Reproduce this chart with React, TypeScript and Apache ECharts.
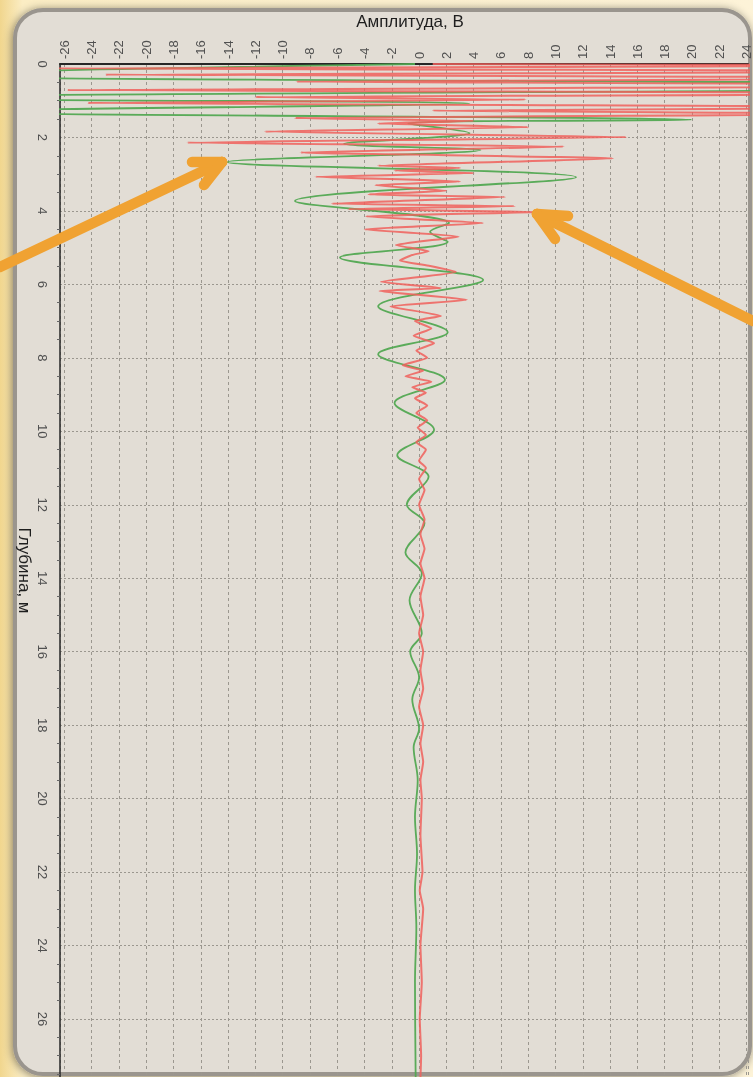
import React, { useEffect, useRef } from "react";
import * as echarts from "echarts";

// ---- Data ----------------------------------------------------------------
// Axis ranges (amplitude, V and depth, m)
const AMP_MIN = -26.32;
const AMP_MAX = 24.11;
const DEPTH_MIN = 0;
const DEPTH_MAX = 27.58;
const DEPTH_STEP = 2;
const AMP_STEP = 2;

const X_TITLE = "Амплитуда, В";
const Y_TITLE = "Глубина, м";

// Green trace: [amplitude, depth]
const greenTrace: [number, number][] = [
  [-0.3, 0], [-40, 0.3], [60, 0.6], [-45, 0.93], [3.7, 1.07], [-35, 1.3],
  [20, 1.52], [-0.8, 1.62], [3.7, 1.88], [-5.5, 2.17], [4.5, 2.34],
  [-14.1, 2.67], [11.5, 3.08], [-9.1, 3.73], [2.2, 4.33], [0.8, 4.57],
  [2.1, 4.84], [-5.8, 5.27], [4.7, 5.88], [-3, 6.6], [2.1, 7.3],
  [-3, 7.9], [1.9, 8.6], [-1.8, 9.23], [1.1, 9.96], [-1.6, 10.65],
  [0.7, 11.24], [-0.9, 12.0], [0.4, 12.5], [-1, 13.3], [0.2, 13.87],
  [-0.7, 14.6], [0.2, 15.5], [-0.65, 16.0], [0, 16.7], [-0.5, 17.3],
  [0, 18.1], [-0.4, 18.6], [-0.1, 19.5], [-0.3, 20.5], [-0.15, 21.5],
  [-0.3, 22.5], [-0.2, 23.5], [-0.3, 25], [-0.25, 27.6],
];

// Red trace: [amplitude, depth]
const redTrace: [number, number][] = [
  [1, 0], [45, 0.04], [-27, 0.12], [50, 0.2], [-23, 0.29], [50, 0.38],
  [-9, 0.48], [55, 0.58], [-25.8, 0.71], [50, 0.8], [-12, 0.9], [7.8, 0.97],
  [-24.3, 1.06], [45, 1.18], [1, 1.27], [35, 1.36], [-9.1, 1.47], [4, 1.55],
  [-3, 1.62], [8, 1.72], [-11.3, 1.84], [15.2, 1.99], [-17, 2.14],
  [10.6, 2.25], [-8.7, 2.41], [14.2, 2.57], [-3, 2.77], [3, 2.83],
  [-1.8, 2.9], [4, 2.97], [-7.6, 3.07], [3, 3.2], [-3.2, 3.3], [2, 3.45],
  [-3.7, 3.55], [6.3, 3.62], [-6.4, 3.8], [7, 3.87], [-5.2, 3.95],
  [9.1, 4.03], [-3.9, 4.15], [4.7, 4.33], [-4, 4.5], [2.9, 4.7],
  [-1.7, 4.93], [0.7, 5.1], [-0.5, 5.2], [-1.4, 5.35], [0.8, 5.5],
  [2.7, 5.66], [-2.8, 5.93], [1.6, 6.1], [-2.9, 6.18], [3.5, 6.42],
  [-2.1, 6.6], [1.6, 6.86], [-0.3, 7.0], [0.9, 7.2], [-0.4, 7.4],
  [1.1, 7.6], [-0.2, 7.8], [0.6, 8.0], [-1.2, 8.2], [0.3, 8.35],
  [-1.0, 8.5], [0.9, 8.65], [-0.5, 8.8], [0.5, 8.95], [-0.3, 9.1],
  [0.6, 9.3], [-0.2, 9.5], [0.6, 9.7], [-0.1, 9.9], [0.5, 10.1],
  [-0.2, 10.3], [0.5, 10.5], [0.0, 10.8], [0.5, 11.0], [0.0, 11.3],
  [0.4, 11.6], [0.0, 12.0], [0.4, 12.4], [0.1, 12.8], [0.4, 13.2],
  [0.1, 13.6], [0.4, 14.0], [0.1, 14.5], [0.3, 15.0], [0.0, 15.5],
  [0.3, 16.0], [0.1, 16.5], [0.3, 17.0], [0.0, 17.5], [0.3, 18.0],
  [0.1, 18.5], [0.3, 19.0], [0.1, 19.5], [0.2, 20.0], [0.1, 21],
  [0.25, 22], [0.05, 22.5], [0.3, 23], [0.1, 24], [0.2, 25],
  [0.05, 26], [0.15, 27], [0.1, 27.6],
];

const FONT = "'Liberation Sans', Arial, sans-serif";
const ARROW = "#f0a232";

export default function App() {
  const ref = useRef<HTMLDivElement>(null);

  useEffect(() => {
    if (!ref.current) return;
    const chart = echarts.init(ref.current, null, { renderer: "svg" });

    const bgGradient = new echarts.graphic.LinearGradient(0, 0, 1, 0, [
      { offset: 0, color: "#f1d68e" },
      { offset: 0.03, color: "#fbedc4" },
      { offset: 1, color: "#fdf3d8" },
    ]);

    const arrowLine = (x1: number, y1: number, x2: number, y2: number) => ({
      type: "line",
      z: 100,
      silent: true,
      shape: { x1, y1, x2, y2 },
      style: { stroke: ARROW, lineWidth: 10.5, lineCap: "round" },
    });

    chart.setOption({
      animation: false,
      backgroundColor: "transparent",
      textStyle: { fontFamily: FONT },
      graphic: [
        {
          type: "rect",
          z: -30,
          silent: true,
          shape: { x: 0, y: 0, width: 753, height: 1077 },
          style: { fill: bgGradient },
        },
        {
          type: "rect",
          z: -20,
          silent: true,
          shape: { x: 15, y: 10, width: 735, height: 1064, r: 28 },
          style: {
            fill: "#e2ddd5",
            stroke: "#9a958e",
            lineWidth: 4,
            shadowBlur: 8,
            shadowColor: "rgba(0,0,0,0.45)",
            shadowOffsetX: -1,
            shadowOffsetY: 1,
          },
        },
        arrowLine(0, 267, 222, 162),
        arrowLine(222, 162, 192, 162),
        arrowLine(222, 162, 204, 185),
        arrowLine(753, 321, 537, 214),
        arrowLine(537, 214, 568, 216),
        arrowLine(537, 214, 555, 239),
      ],
      grid: { left: 60, top: 64, right: 0, bottom: 0 },
      xAxis: {
        type: "value",
        position: "top",
        min: AMP_MIN,
        max: AMP_MAX,
        splitNumber: 25,
        minInterval: AMP_STEP,
        maxInterval: AMP_STEP,
        name: X_TITLE,
        nameLocation: "middle",
        nameGap: 34,
        nameTextStyle: { fontSize: 17, color: "#1e1e1e", fontFamily: FONT, padding: [0, 0, 0, 12] },
        axisLine: { show: true, onZero: false, lineStyle: { color: "#262626", width: 2 } },
        axisTick: { show: false },
        axisLabel: {
          rotate: -90,
          fontSize: 13,
          color: "#505050",
          fontFamily: FONT,
          margin: 5,
          showMinLabel: false,
          showMaxLabel: false,
          formatter: (v: number) => (Number.isInteger(v) ? String(v) : ""),
        },
        splitLine: {
          show: true,
          lineStyle: { color: "#9b978f", width: 1, type: [3, 3] },
        },
      },
      yAxis: {
        type: "value",
        inverse: true,
        min: DEPTH_MIN,
        max: DEPTH_MAX,
        interval: DEPTH_STEP,
        name: Y_TITLE,
        nameLocation: "middle",
        nameRotate: -90,
        nameGap: 27,
        nameMoveOverlap: false,
        nameTextStyle: { fontSize: 17, color: "#1e1e1e", fontFamily: FONT },
        axisLine: { show: true, onZero: false, lineStyle: { color: "#262626", width: 1.5 } },
        axisTick: { show: false },
        minorTick: { show: true, splitNumber: 4, length: 3, lineStyle: { color: "#666" } },
        axisLabel: {
          rotate: -90,
          fontSize: 13,
          color: "#505050",
          fontFamily: FONT,
          margin: 11,
          showMaxLabel: false,
          formatter: (v: number) => (Number.isInteger(v) ? String(v) : ""),
        },
        splitLine: {
          show: true,
          lineStyle: { color: "#9b978f", width: 1, type: [2, 2] },
        },
      },
      series: [
        {
          type: "line",
          name: "green",
          data: greenTrace,
          showSymbol: false,
          smooth: 0.35,
          clip: true,
          lineStyle: { color: "#52a852", width: 1.8, opacity: 0.95 },
          z: 3,
        },
        {
          type: "line",
          name: "red",
          data: redTrace,
          showSymbol: false,
          smooth: 0.15,
          clip: true,
          lineStyle: { color: "#f0605c", width: 2, opacity: 0.85 },
          z: 4,
        },
      ],
    });

    return () => chart.dispose();
  }, []);

  return (
    <div
      ref={ref}
      style={{ position: "fixed", left: 0, top: 0, width: 753, height: 1077 }}
    />
  );
}
